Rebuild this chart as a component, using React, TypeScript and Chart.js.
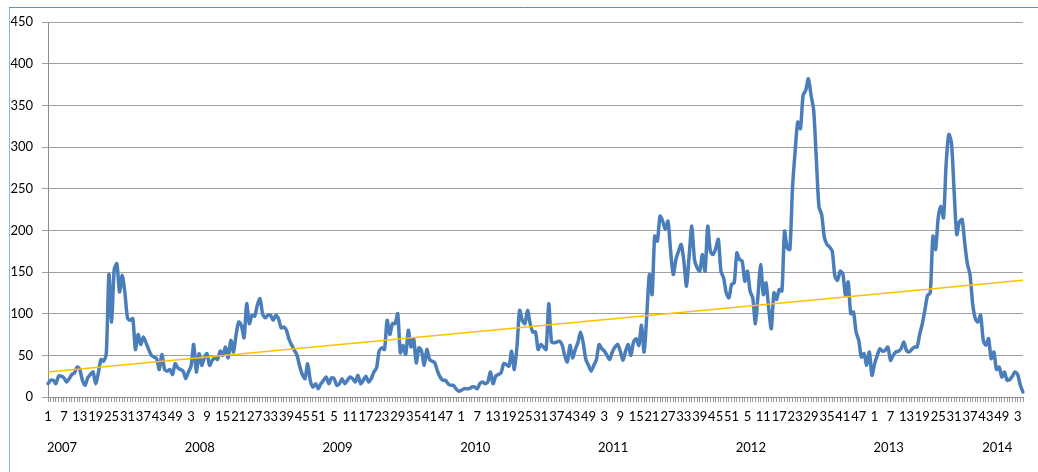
import React, { useEffect, useRef } from 'react';
import { Chart, registerables } from 'chart.js';

Chart.register(...registerables);

// ---- data ----
const years = ['2007', '2008', '2009', '2010', '2011', '2012', '2013', '2014'];
const weeksPerYear = [52, 52, 52, 52, 52, 52, 52, 5];

const v2007 = [16, 20, 20, 16, 25, 25, 23, 18, 22, 27, 29, 36, 33, 20, 14, 23, 27, 30, 16, 29, 45, 43, 52, 147, 90, 153, 160, 126, 146, 126, 95, 92, 94, 57, 75, 63, 72, 65, 57, 50, 48, 46, 33, 51, 33, 31, 33, 27, 40, 35, 33, 31];
const v2008 = [22, 30, 37, 63, 30, 52, 38, 47, 52, 38, 44, 47, 45, 55, 50, 60, 47, 68, 54, 75, 90, 86, 71, 112, 88, 98, 97, 110, 118, 100, 95, 98, 98, 92, 98, 94, 83, 84, 80, 69, 62, 56, 50, 37, 27, 22, 40, 20, 12, 16, 10, 16];
const v2009 = [20, 24, 16, 23, 22, 14, 16, 22, 16, 20, 24, 22, 18, 26, 16, 20, 25, 18, 22, 30, 35, 55, 59, 57, 92, 75, 88, 88, 100, 53, 62, 51, 80, 60, 70, 41, 59, 55, 38, 57, 45, 43, 41, 31, 24, 20, 20, 16, 14, 14, 10, 7];
const v2010 = [8, 10, 10, 10, 12, 12, 10, 16, 18, 16, 18, 30, 16, 25, 27, 29, 40, 39, 37, 55, 33, 60, 104, 92, 88, 104, 88, 78, 78, 57, 63, 60, 57, 112, 67, 65, 66, 67, 63, 50, 42, 62, 47, 57, 65, 78, 65, 45, 38, 31, 38, 45];
const v2011 = [63, 58, 55, 50, 45, 54, 60, 63, 55, 44, 55, 63, 50, 66, 70, 62, 86, 54, 98, 147, 123, 193, 187, 217, 211, 201, 211, 175, 147, 165, 175, 183, 163, 133, 170, 205, 165, 155, 151, 171, 151, 205, 175, 171, 178, 189, 151, 143, 125, 119, 135, 137];
const v2012 = [173, 165, 163, 139, 151, 127, 119, 88, 123, 159, 123, 137, 107, 82, 125, 117, 129, 127, 199, 179, 177, 251, 295, 330, 322, 362, 368, 382, 362, 344, 285, 228, 219, 192, 183, 180, 175, 145, 140, 151, 148, 122, 138, 100, 102, 78, 68, 48, 52, 38, 54, 26];
const v2013 = [40, 50, 58, 55, 56, 60, 44, 50, 54, 55, 58, 66, 56, 54, 57, 60, 60, 75, 88, 105, 122, 125, 193, 177, 215, 229, 215, 280, 315, 305, 247, 195, 210, 213, 185, 160, 147, 112, 94, 90, 98, 68, 62, 70, 46, 54, 33, 36, 24, 30, 20, 21];
const v2014 = [25, 30, 27, 14, 6];

// linear trend end values
const trendStart = 30;
const trendEnd = 140;

const yMin = 0;
const yMax = 450;
const yStep = 50;
const labelEvery = 6;

const values: number[] = [...v2007, ...v2008, ...v2009, ...v2010, ...v2011, ...v2012, ...v2013, ...v2014];
const weekLabels: string[] = [];
weeksPerYear.forEach((n) => {
  for (let w = 1; w <= n; w++) weekLabels.push(String(w));
});
const trendData = values.map((_, i) => (i === 0 ? trendStart : i === values.length - 1 ? trendEnd : null));

const FONT = 'Lato, "Open Sans", sans-serif';
const FONT_SIZE = 13;

const yearPlugin = {
  id: 'yearLabels',
  afterDraw(chart: any) {
    const xs = chart.scales.x;
    const ctx = chart.ctx;
    ctx.save();
    ctx.font = `${FONT_SIZE}px ${FONT}`;
    ctx.fillStyle = '#000';
    ctx.textBaseline = 'middle';
    let start = 0;
    years.forEach((y, k) => {
      const px = xs.getPixelForValue(start);
      const w = ctx.measureText(y).width;
      const cx = px + 14;
      if (cx + w / 2 > chart.chartArea.right) {
        ctx.textAlign = 'right';
        ctx.fillText(y, px, 448);
      } else {
        ctx.textAlign = 'center';
        ctx.fillText(y, cx, 448);
      }
      start += weeksPerYear[k];
    });
    // chart frame
    ctx.lineWidth = 1;
    ctx.strokeStyle = '#8db3e2';
    ctx.beginPath();
    ctx.moveTo(9.5, 7);
    ctx.lineTo(9.5, 472);
    ctx.stroke();
    ctx.strokeStyle = '#5f8dc8';
    ctx.beginPath();
    ctx.moveTo(9, 7.5);
    ctx.lineTo(1038, 7.5);
    ctx.stroke();
    ctx.restore();
  },
};

export default function App() {
  const ref = useRef<HTMLCanvasElement | null>(null);

  useEffect(() => {
    if (!ref.current) return;
    const chart = new Chart(ref.current, {
      type: 'line',
      data: {
        labels: weekLabels,
        datasets: [
          {
            label: 'Trend',
            data: trendData,
            borderColor: '#ffc000',
            borderWidth: 1.5,
            pointRadius: 0,
            tension: 0,
            spanGaps: true,
            fill: false,
          },
          {
            label: 'Series',
            data: values,
            borderColor: '#4a7ebb',
            borderWidth: 3.5,
            pointRadius: 0,
            tension: 0.25,
            borderJoinStyle: 'round',
            borderCapStyle: 'round',
            fill: false,
          },
        ],
      },
      options: {
        animation: false,
        responsive: true,
        maintainAspectRatio: false,
        devicePixelRatio: 1,
        layout: { padding: { left: 0, top: 22, right: 15, bottom: 0 } },
        plugins: {
          legend: { display: false },
          tooltip: { enabled: false },
          title: { display: false },
        },
        events: [],
        scales: {
          x: {
            type: 'category',
            offset: false,
            afterFit: (s: any) => {
              s.height = 75;
            },
            border: { display: true, color: '#8c8c8c', width: 1 },
            grid: {
              display: true,
              drawOnChartArea: false,
              drawTicks: true,
              tickLength: 5,
              color: '#9a9a9a',
              offset: false,
            },
            ticks: {
              autoSkip: false,
              maxRotation: 0,
              minRotation: 0,
              padding: 7,
              color: '#000',
              font: { family: FONT, size: FONT_SIZE },
              callback: (_v: any, i: number) => (i % labelEvery === 0 ? weekLabels[i] : ''),
            },
          },
          y: {
            min: yMin,
            max: yMax,
            afterFit: (s: any) => {
              s.width = 48;
            },
            border: { display: true, color: '#8c8c8c', width: 1 },
            grid: {
              color: '#a0a0a0',
              lineWidth: 1,
              drawTicks: true,
              tickLength: 6,
            },
            ticks: {
              stepSize: yStep,
              padding: 9,
              color: '#000',
              font: { family: FONT, size: FONT_SIZE },
            },
          },
        },
      },
      plugins: [yearPlugin],
    } as any);
    return () => chart.destroy();
  }, []);

  return (
    <div style={{ position: 'fixed', left: 0, top: 0, width: 1038, height: 472, background: '#fff' }}>
      <canvas ref={ref} />
    </div>
  );
}
